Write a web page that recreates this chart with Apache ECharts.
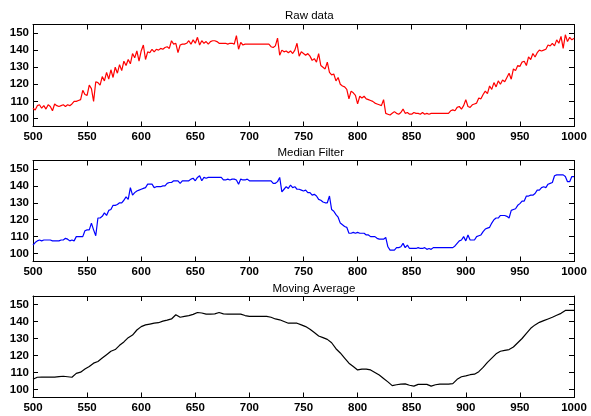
<!DOCTYPE html>
<html><head><meta charset="utf-8">
<script src="https://cdn.jsdelivr.net/npm/echarts@6/dist/echarts.min.js"></script>
<style>html,body{margin:0;padding:0;background:#fff}#c{width:591px;height:416px}</style>
</head><body><div id="c"></div>
<script>
var titles = ["Raw data", "Median Filter", "Moving Average"];
var xTicks = [500, 550, 600, 650, 700, 750, 800, 850, 900, 950, 1000];
var xStart = 500;
var rawStep = 2;
var rawData = [
106,105,107.5,108,106,107.5,105.5,108,107,104.5,
108.5,107.5,107,107.5,108,107,108,107.5,108.5,110,
110,110.5,111,116.5,114,113.5,119.5,117.5,110,121.5,
121,119.5,124.5,122,127,123,128.5,124,130,126.5,
131.5,128,133.5,131,134.5,132,138,135.5,139.5,133.5,
139.5,143,134.5,139,138.5,140.5,139,140.5,140,141,
140.5,141.5,142,141,145.5,143.5,144,138.5,143,143.5,
143.5,144,145.5,143.5,146,144,147.5,143,145.5,144,
145,143.5,145,145.5,145.5,145,144,144,144,144,
143.5,144,144,143.5,148.5,140.5,144.5,143,143.5,143.5,
143.5,143.5,143.5,143.5,143.5,143.5,143.5,143.5,143.5,143.5,
142,141.5,142.5,147,137,140,139,139.5,138.5,139.5,
138,140,144,136.5,139,138,137,138,136.5,134,
135,133,138,131,130,129,133,127,125.5,126,
122,124,120,119,118.5,117,111.5,116,115,113.5,
108.5,113,112,113,111.5,111,110.5,110,109,108.5,
108,107.5,111,103,102.5,102,103,104,103,102.5,
103.5,105.5,103,103.5,102.5,102.5,103.5,103,103,102.5,
103.5,102.5,103,102.5,103,103,103,103,103,103,
103,103,103,104.5,105,104.5,106.5,107,105.5,107.5,
111,107,106.5,108,108.5,109,112,111.5,114,116,
114.5,119,117,121,118.5,122,120,122.5,121.5,124,
126.5,123,129,128,131,130.5,133,133.5,131,136,
134.5,138,136,138.5,140,139.5,140,140.5,143,142.5,
144,142.5,146,144,148,141,149,145,147.5,146,
147
];
var medStep = 2;
var medianData = [
105,106.5,107.5,108,107.5,108,108,108,108,107.5,
107.5,107.5,107.5,108,108,109,108.5,107.5,108,107.5,
110,110,110,110,113.5,114,114,118,114,110.5,
121,121,122,124,122.5,125.5,126,128.5,128.5,129,
130,130,131.5,133.5,132,139,134.5,136,137,137.5,
138,138.5,139,141,141,141,139,139.5,139.5,139.5,
140,140,141.5,142,142,143,143,143,141.5,143,
143,143,143,144,144.5,143,145,146,143,145,
144.5,145,145,145,145,145,145,145,143.5,143.5,
144,143.5,144,144,143.5,141,144,143.5,143.5,144,
143,143,143,143,143,143,143,143,143,143,
143,141.5,141.5,142.5,145,136.5,138,139.5,138.5,140.5,
139,139.5,138,138,137.5,137,137.5,136,136,134.5,
135,134,132,131.5,130.5,130,130,134,126,125,
123,121.5,118,117,116,115.5,112,112,112.5,112,
112.5,112,112,112,111,111,110,110,110,109,
108.5,108.5,108.5,109.5,104,102,102,102,103.5,103.5,
104,106,103.5,105,103,103,103,103,103.5,103,
103,103.5,102.5,103,102.5,103.5,103.5,103.5,103.5,103.5,
103.5,103.5,103.5,103.5,103.5,104.5,106,107.5,108,110,
107.5,111,108,108,108,110,110.5,111,113,114.5,
115,115.5,118,120,121,121,122.5,122.5,122.5,122,
121,125.5,126,126.5,128.5,129.5,131,131,134,134,
134.5,134.5,135.5,137.5,137.5,139,139.5,139,141,141.5,
142,146,146.5,146.5,146.5,146.5,145.5,142.5,142.5,145.5,
145.5
];
var maStep = 4;
var movingAvgData = [
106,107.2,107.3,107.3,107.3,107.3,107.6,107.8,107.5,107.2,
109.5,110.2,112,113.5,115.5,116.5,118.5,120.5,122.5,123.5,
126,128,130.5,132,135,137,138,138.5,139,139.3,
140.2,140.8,141.5,144,142.5,143,143.5,144.2,145.3,145,
144.3,144.3,144.5,145.3,144.5,144.3,144.3,144.3,144.3,143.5,
143,143,143,143,143,142.5,141.5,141,140,139,
139,139,138,137,135.5,133.5,131.5,130.5,129.5,127.5,
124,121.5,118.5,115.5,113.5,111.5,112,112,111.5,110,
108.5,106.5,104.5,102.3,102.8,103.2,103.3,102.5,102,103,
103,103,102,102.8,103.2,103.2,103.2,103.5,106,107.5,
108,108.7,109,110.5,113,116,118.5,121,122.5,123,
123.5,125,127.5,130,133,136,138,139.5,140.5,141.5,
142.5,143.7,144.8,146.5,146.5,146.5
];

function pairs(arr, step) {
  return arr.map(function (v, i) { return [xStart + i * step, v]; });
}

var grids = [
  {left: 33, right: 17, top: 24.5, height: 102},
  {left: 33, right: 17, top: 160.5, height: 101},
  {left: 33, right: 17, top: 296, height: 101.5}
];
var titleLefts = [285, 277.5, 272.5];
var titleTops = [10, 146.5, 283];
var colors = ['#ff0000', '#0000ff', '#000000'];
var datasets = [pairs(rawData, rawStep), pairs(medianData, medStep), pairs(movingAvgData, maStep)];

var font = 'Liberation Sans, Arial, Helvetica, sans-serif';
var xAxes = [], yAxes = [], series = [], titleArr = [];
for (var g = 0; g < 3; g++) {
  var tickStyle = {show: true, inside: true, length: 5, lineStyle: {color: '#000', width: 1}};
  var lineStyle = {show: true, lineStyle: {color: '#000', width: 1}};
  xAxes.push({gridIndex: g, type: 'value', position: 'bottom', min: 500, max: 1000, interval: 50,
    axisLine: lineStyle, axisTick: tickStyle, splitLine: {show: false},
    axisLabel: {color: '#000', fontSize: 11.5, fontWeight: 'bold', fontFamily: font, margin: 4,
      formatter: function (v) { return String(v); }}});
  xAxes.push({gridIndex: g, type: 'value', position: 'top', min: 500, max: 1000, interval: 50,
    axisLine: lineStyle, axisTick: tickStyle, splitLine: {show: false}, axisLabel: {show: false}});
  yAxes.push({gridIndex: g, type: 'value', position: 'left', min: 95.3, max: 155, splitNumber: 5,
    axisLine: lineStyle, axisTick: tickStyle, splitLine: {show: false},
    axisLabel: {color: '#000', fontSize: 11.5, fontWeight: 'bold', fontFamily: font, margin: 4, showMinLabel: false, showMaxLabel: false,
      formatter: function (v) { return String(v); }}});
  yAxes.push({gridIndex: g, type: 'value', position: 'right', min: 95.3, max: 155, splitNumber: 5,
    axisLine: lineStyle, axisTick: tickStyle, splitLine: {show: false}, axisLabel: {show: false}});
  series.push({type: 'line', xAxisIndex: 2 * g, yAxisIndex: 2 * g, data: datasets[g],
    showSymbol: false, symbol: 'none', animation: false, silent: true,
    lineStyle: {color: colors[g], width: 1.2}});
  titleArr.push({text: titles[g], left: titleLefts[g], top: titleTops[g], padding: 0,
    textStyle: {fontSize: 11.5, fontWeight: 'normal', color: '#000', fontFamily: font}});
}

var chart = echarts.init(document.getElementById('c'), null, {renderer: 'canvas'});
chart.setOption({
  animation: false,
  backgroundColor: '#fff',
  title: titleArr,
  grid: grids,
  xAxis: xAxes,
  yAxis: yAxes,
  series: series
});
</script></body></html>
